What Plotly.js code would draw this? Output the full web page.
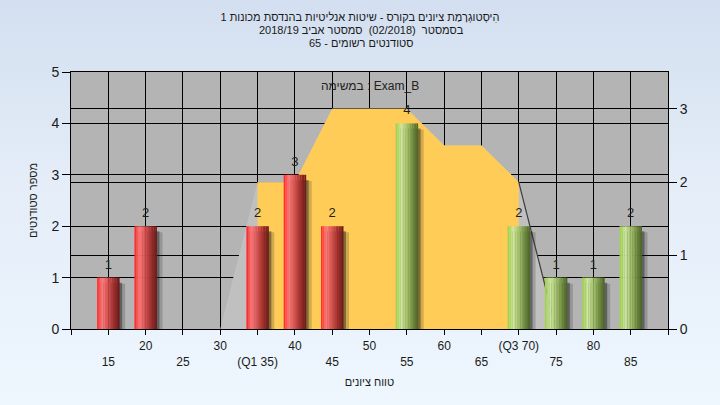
<!DOCTYPE html>
<html><head><meta charset="utf-8">
<script src="https://cdn.plot.ly/plotly-3.0.1.min.js"></script>
<style>
html,body{margin:0;padding:0;width:720px;height:405px;overflow:hidden;background:linear-gradient(to bottom,#d3dff0 0%,#e4edf8 45%,#eef6fe 100%);}
#chart{width:720px;height:405px;}
</style></head><body><div id="chart"></div>
<script>
// ---- data ----
const gradeBins = [15,20,25,30,35,40,45,50,55,60,65,70,75,80,85];
const studentCounts = [1,2,0,0,2,3,2,0,4,0,0,2,1,1,2];
const curveX = [30,35,40,45,50,55,60,65,70,75];
const curveY = [0,2,2,3,3,3,2.5,2.5,2,0];
const q1 = 35, q3 = 70;
const passGrade = 50;
const tickValues = [10,15,20,25,30,35,40,45,50,55,60,65,70,75,80,85,90];
const tickLabels = ['','15','20','25','30','(Q1 35)','40','45','50','55','60','65','(Q3 70)','75','80','85',''];
const titleLines = ['הִיסְטוגְרָמַת ציונים בקורס - שיטות אנליטיות בהנדסת מכונות 1',
                    'בסמסטר\u00A0 (02/2018)\u00A0 סמסטר אביב 2018/19',
                    'סטודנטים רשומים - 65'];
const examLabel = 'במשימה : Exam_B';
const xTitle = 'טווח ציונים';
const yTitle = 'מספר סטודנטים';

// ---- styling helpers ----
const barWidth = 3;
const nSlices = 14;
const labelGap = 0.24; // label centre above bar top (left-axis units)
const redStops = [[0,[255,32,32]],[0.22,[255,122,122]],[0.45,[226,88,88]],[0.75,[160,44,44]],[1,[104,24,24]]];
const greenStops = [[0,[156,206,70]],[0.25,[204,230,158]],[0.5,[166,196,110]],[0.78,[110,140,62]],[1,[72,98,36]]];
function interp(stops,t){
  for(let i=1;i<stops.length;i++){
    if(t<=stops[i][0]){
      const a=stops[i-1], b=stops[i];
      const f=(t-a[0])/(b[0]-a[0]);
      const c=a[1].map((v,k)=>Math.round(v+(b[1][k]-v)*f));
      return 'rgb('+c.join(',')+')';
    }
  }
  const l=stops[stops.length-1][1]; return 'rgb('+l.join(',')+')';
}

const barX = [], barY = [];
gradeBins.forEach((g,i)=>{ if(studentCounts[i]>0){ barX.push(g); barY.push(studentCounts[i]); } });
const isFail = barX.map(g=>g<passGrade);

const traces = [];
// distribution area (main y axis, right side)
traces.push({type:'scatter', mode:'lines', x:curveX, y:curveY, fill:'tozeroy', fillcolor:'#c0c0c0',
  line:{width:0,color:'#c0c0c0'}, hoverinfo:'skip', showlegend:false});
const iqX=[], iqY=[];
curveX.forEach((v,i)=>{ if(v>=q1 && v<=q3){ iqX.push(v); iqY.push(curveY[i]); } });
traces.push({type:'scatter', mode:'lines', x:iqX, y:iqY, fill:'tozeroy', fillcolor:'#ffcd57',
  line:{width:0,color:'#ffcd57'}, hoverinfo:'skip', showlegend:false});
const tailX=[], tailY=[];
curveX.forEach((v,i)=>{ if(v>=q3){ tailX.push(v); tailY.push(curveY[i]); } });
traces.push({type:'scatter', mode:'lines', x:tailX, y:tailY, line:{width:1.2,color:'#3c3c3c'},
  hoverinfo:'skip', showlegend:false});

// bar shadows
traces.push({type:'bar', x:barX, y:barY.map(v=>v+0.0), base:barX.map(()=>-0.12), yaxis:'y2',
  width:barWidth, offset:-barWidth/2+0.75, marker:{color:'rgba(40,40,40,0.22)',line:{width:0}},
  cliponaxis:false, hoverinfo:'skip', showlegend:false});
traces.push({type:'bar', x:barX, y:barY.map(v=>v-0.02), base:barX.map(()=>-0.08), yaxis:'y2',
  width:barWidth, offset:-barWidth/2+0.35, marker:{color:'rgba(30,30,30,0.45)',line:{width:0}},
  cliponaxis:false, hoverinfo:'skip', showlegend:false});

// cylinder slices
const sw = barWidth/nSlices;
for(let s=0;s<nSlices;s++){
  const t=(s+0.5)/nSlices;
  traces.push({type:'bar', x:barX, y:barY, yaxis:'y2', width:sw*1.08, offset:-barWidth/2+s*sw,
    marker:{color:isFail.map(f=>interp(f?redStops:greenStops,t)), line:{width:0}},
    hoverinfo:'skip', showlegend:false});
}
// value labels
traces.push({type:'scatter', mode:'text', x:barX, y:barY.map(v=>v+labelGap), yaxis:'y2', text:barY.map(String),
  textposition:'middle center', textfont:{size:13,color:'#1e1e1e',family:'Liberation Sans, Arial, sans-serif'},
  cliponaxis:false, hoverinfo:'skip', showlegend:false});

const tickText = tickValues.map((v,i)=> (v%10===0) ? tickLabels[i] : '<br>'+tickLabels[i]);

const layout = {
  width:720, height:405,
  margin:{l:71,r:52,t:72,b:76},
  paper_bgcolor:'rgba(0,0,0,0)',
  plot_bgcolor:'#b4b4b4',
  barmode:'overlay',
  showlegend:false,
  font:{family:'Liberation Sans, Arial, sans-serif', color:'#1a1a1a', size:12},
  title:{text:titleLines[0], x:0.5, xref:'container', xanchor:'center', y:1-17.5/405, yref:'container', yanchor:'middle', font:{size:11,color:'#1a1a1a'}},
  annotations:[
    {text:titleLines[1], xref:'paper', x:(361-71)/597, yref:'paper', y:(329-30.5)/257, xanchor:'center', yanchor:'middle', showarrow:false, font:{size:11}},
    {text:titleLines[2], xref:'paper', x:(361-71)/597, yref:'paper', y:(329-43.5)/257, xanchor:'center', yanchor:'middle', showarrow:false, font:{size:11}},
    {text:examLabel, xref:'paper', x:0.5, yref:'paper', y:1-14/257, xanchor:'center', yanchor:'middle', showarrow:false, font:{size:12,color:'#222'}}
  ],
  xaxis:{range:[10,90], tickmode:'array', tickvals:tickValues, ticktext:tickText, ticks:'outside', ticklen:5, tickcolor:'#000',
    showline:true, linecolor:'#000', linewidth:1, mirror:true, showgrid:true, gridcolor:'#000', gridwidth:1, zeroline:false,
    tickfont:{size:12}, ticklabelstandoff:1, title:{text:xTitle, font:{size:11}, standoff:10}},
  yaxis:{range:[0,3.5], side:'right', tickmode:'array', tickvals:[0,1,2,3], ticks:'outside', ticklen:8, tickcolor:'#000',
    showline:true, linecolor:'#000', showgrid:true, gridcolor:'#000', gridwidth:1, zeroline:false, tickfont:{size:14}},
  yaxis2:{range:[0,5], side:'left', overlaying:'y', dtick:1, ticks:'outside', ticklen:8, tickcolor:'#000',
    showline:true, linecolor:'#000', showgrid:true, gridcolor:'#000', gridwidth:1, zeroline:false, tickfont:{size:14},
    title:{text:yTitle, font:{size:11}, standoff:11}}
};
Plotly.newPlot('chart', traces, layout, {staticPlot:true, displayModeBar:false});
</script></body></html>
